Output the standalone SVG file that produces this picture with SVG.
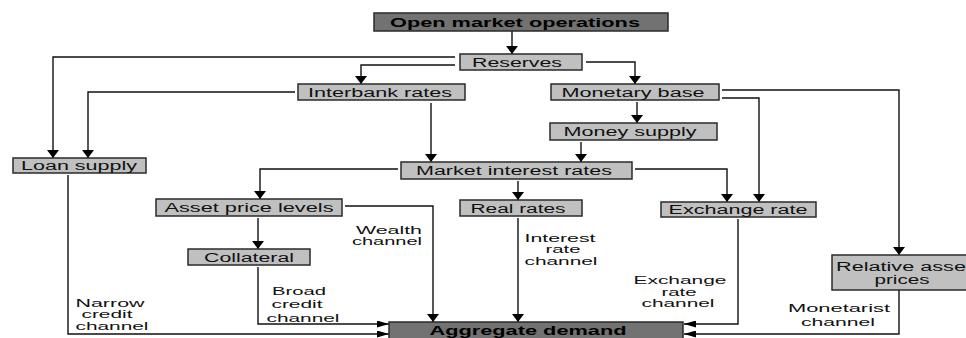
<svg xmlns="http://www.w3.org/2000/svg" width="966" height="338" viewBox="0 0 966 338">
<style>
.box{fill:#c0c0c0;stroke:#2a2a2a;stroke-width:1.5}
.dark{fill:#727272;stroke:#2a2a2a;stroke-width:1.5}
.lbl{font-family:"Liberation Sans",Arial,sans-serif;font-size:12px;fill:#111;text-anchor:middle}
.bold{font-family:"Liberation Sans",Arial,sans-serif;font-size:13px;font-weight:bold;fill:#000;text-anchor:middle}
.ch{font-family:"Liberation Sans",Arial,sans-serif;font-size:11px;fill:#111;text-anchor:middle}
.c{fill:none;stroke:#111;stroke-width:1.4}
</style>
<defs>
<marker id="ad" viewBox="0 0 8 12" refX="8" refY="6" markerWidth="8" markerHeight="12" markerUnits="userSpaceOnUse" orient="auto"><path d="M0,0 L8,6 L0,12 Z" fill="#000"/></marker>
<marker id="ah" viewBox="0 0 12 7" refX="12" refY="3.5" markerWidth="12" markerHeight="7" markerUnits="userSpaceOnUse" orient="auto"><path d="M0,0 L12,3.5 L0,7 Z" fill="#000"/></marker>
</defs>
<rect width="966" height="338" fill="#fff"/>
<g id="connectors">
<path class="c" d="M512,31 V54" marker-end="url(#ad)"/>
<path class="c" d="M586,62 H635 V84" marker-end="url(#ad)"/>
<path class="c" d="M455,57 H53 V158" marker-end="url(#ad)"/>
<path class="c" d="M455,65 H361 V84" marker-end="url(#ad)"/>
<path class="c" d="M295,92 H88 V158" marker-end="url(#ad)"/>
<path class="c" d="M431,103 V162" marker-end="url(#ad)"/>
<path class="c" d="M637,102 V123" marker-end="url(#ad)"/>
<path class="c" d="M581,142 V162" marker-end="url(#ad)"/>
<path class="c" d="M722,90 H899 V255" marker-end="url(#ad)"/>
<path class="c" d="M722,98 H759 V202" marker-end="url(#ad)"/>
<path class="c" d="M635,169 H727 V202" marker-end="url(#ad)"/>
<path class="c" d="M398,169 H260 V199" marker-end="url(#ad)"/>
<path class="c" d="M518,181 V200" marker-end="url(#ad)"/>
<path class="c" d="M345,206 H433 V322" marker-end="url(#ad)"/>
<path class="c" d="M518,218 V322" marker-end="url(#ad)"/>
<path class="c" d="M258,218 V249" marker-end="url(#ad)"/>
<path class="c" d="M258,267 V324 H389" marker-end="url(#ah)"/>
<path class="c" d="M68,175 V334 H389" marker-end="url(#ah)"/>
<path class="c" d="M738,219 V324 H684" marker-end="url(#ah)"/>
<path class="c" d="M899,290 V334 H684" marker-end="url(#ah)"/>
</g>
<g id="omo"><rect class="dark" x="374" y="13" width="294" height="18"/><text class="bold" x="515" y="27" textLength="250" lengthAdjust="spacingAndGlyphs">Open market operations</text></g>
<g id="reserves"><rect class="box" x="460" y="54" width="122" height="16"/><text class="lbl" x="517" y="66.5" textLength="90" lengthAdjust="spacingAndGlyphs">Reserves</text></g>
<g id="interbank"><rect class="box" x="298" y="84" width="167" height="16"/><text class="lbl" x="380" y="96.5" textLength="144" lengthAdjust="spacingAndGlyphs">Interbank rates</text></g>
<g id="monetarybase"><rect class="box" x="551" y="84" width="168" height="16"/><text class="lbl" x="633" y="96.5" textLength="143" lengthAdjust="spacingAndGlyphs">Monetary base</text></g>
<g id="moneysupply"><rect class="box" x="550" y="123" width="167" height="17"/><text class="lbl" x="630" y="136" textLength="133" lengthAdjust="spacingAndGlyphs">Money supply</text></g>
<g id="loansupply"><rect class="box" x="13" y="158" width="133" height="15"/><text class="lbl" x="79" y="170" textLength="116" lengthAdjust="spacingAndGlyphs">Loan supply</text></g>
<g id="market"><rect class="box" x="401" y="162" width="231" height="17"/><text class="lbl" x="514" y="175" textLength="196" lengthAdjust="spacingAndGlyphs">Market interest rates</text></g>
<g id="assetprice"><rect class="box" x="156" y="199" width="186" height="17"/><text class="lbl" x="249" y="212" textLength="169" lengthAdjust="spacingAndGlyphs">Asset price levels</text></g>
<g id="realrates"><rect class="box" x="460" y="200" width="122" height="16"/><text class="lbl" x="518" y="212.5" textLength="95" lengthAdjust="spacingAndGlyphs">Real rates</text></g>
<g id="exchangerate"><rect class="box" x="661" y="202" width="155" height="15"/><text class="lbl" x="738" y="214" textLength="139" lengthAdjust="spacingAndGlyphs">Exchange rate</text></g>
<g id="collateral"><rect class="box" x="188" y="249" width="122" height="16"/><text class="lbl" x="249" y="261.5" textLength="90" lengthAdjust="spacingAndGlyphs">Collateral</text></g>
<g id="relative"><rect class="box" x="832" y="255" width="140" height="35"/><text class="lbl" x="836" y="271" style="text-anchor:start" textLength="130" lengthAdjust="spacingAndGlyphs">Relative asse</text><text class="lbl" x="902" y="284" textLength="55" lengthAdjust="spacingAndGlyphs">prices</text></g>
<g id="aggregate"><rect class="dark" x="389" y="322" width="294" height="20"/><text class="bold" x="528" y="334.5" font-size="12.5" textLength="197" lengthAdjust="spacingAndGlyphs">Aggregate demand</text></g>
<g id="labels">
<text class="ch" x="389" y="234" textLength="66" lengthAdjust="spacingAndGlyphs">Wealth</text>
<text class="ch" x="387" y="245" textLength="70" lengthAdjust="spacingAndGlyphs">channel</text>
<text class="ch" x="560" y="242" textLength="71" lengthAdjust="spacingAndGlyphs">Interest</text>
<text class="ch" x="563" y="253" textLength="35" lengthAdjust="spacingAndGlyphs">rate</text>
<text class="ch" x="561" y="265" textLength="73" lengthAdjust="spacingAndGlyphs">channel</text>
<text class="ch" x="680" y="284" textLength="93" lengthAdjust="spacingAndGlyphs">Exchange</text>
<text class="ch" x="679" y="296" textLength="35" lengthAdjust="spacingAndGlyphs">rate</text>
<text class="ch" x="678" y="307" textLength="73" lengthAdjust="spacingAndGlyphs">channel</text>
<text class="ch" x="839" y="312" textLength="102" lengthAdjust="spacingAndGlyphs">Monetarist</text>
<text class="ch" x="838" y="326" textLength="74" lengthAdjust="spacingAndGlyphs">channel</text>
<text class="ch" x="299" y="295" textLength="54" lengthAdjust="spacingAndGlyphs">Broad</text>
<text class="ch" x="297" y="308" textLength="51" lengthAdjust="spacingAndGlyphs">credit</text>
<text class="ch" x="303" y="322" textLength="73" lengthAdjust="spacingAndGlyphs">channel</text>
<text class="ch" x="110" y="306.5" textLength="69" lengthAdjust="spacingAndGlyphs">Narrow</text>
<text class="ch" x="107" y="318" textLength="51" lengthAdjust="spacingAndGlyphs">credit</text>
<text class="ch" x="112" y="330" textLength="73" lengthAdjust="spacingAndGlyphs">channel</text>
</g>
</svg>
